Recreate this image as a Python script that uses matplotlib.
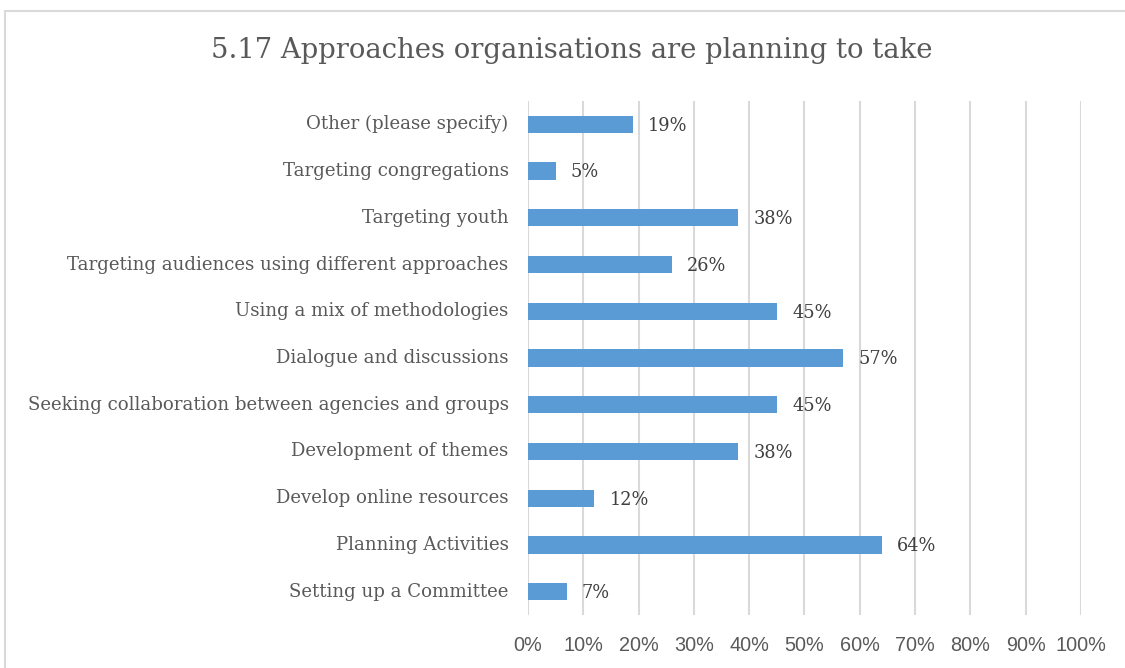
import matplotlib.pyplot as plt
from matplotlib.patches import Rectangle
from matplotlib.ticker import MultipleLocator, PercentFormatter

categories = [
    "Other (please specify)",
    "Targeting congregations",
    "Targeting youth",
    "Targeting audiences using different approaches",
    "Using a mix of methodologies",
    "Dialogue and discussions",
    "Seeking collaboration between agencies and groups",
    "Development of themes",
    "Develop online resources",
    "Planning Activities",
    "Setting up a Committee",
]
values = [19, 5, 38, 26, 45, 57, 45, 38, 12, 64, 7]

title = "5.17 Approaches organisations are planning to take"

bar_color = "#5B9BD5"
text_color = "#595959"
grid_color = "#D9D9D9"

fig = plt.figure(figsize=(11.25, 6.68), dpi=100)
ax = fig.add_axes([0.4693, 0.0793, 0.4916, 0.7695])

# outer chart frame (cut off at the right and bottom edges)
fig.patches.append(Rectangle((5 / 1125, -0.1), 2.0, (668 - 11) / 668 + 0.1,
                             transform=fig.transFigure, fill=False,
                             edgecolor=grid_color, linewidth=1.5))

y = list(range(len(categories)))[::-1]
ax.barh(y, values, height=0.37, color=bar_color, zorder=3)

for yi, v in zip(y, values):
    ax.annotate(f"{v}%", xy=(v, yi), xytext=(11, -1), textcoords="offset points",
                ha="left", va="center", fontsize=12.8, color="#404040",
                family="DejaVu Serif")

ax.set_xlim(0, 100)
ax.set_ylim(-0.5, len(categories) - 0.5)
ax.xaxis.set_major_locator(MultipleLocator(10))
ax.xaxis.set_major_formatter(PercentFormatter(decimals=0))
ax.set_yticks(y)
ax.set_yticklabels(categories, family="DejaVu Serif", fontsize=13.1, color=text_color)
for lbl in ax.get_yticklabels():
    lbl.set_verticalalignment("center")
ax.tick_params(axis="y", length=0, pad=14)
ax.tick_params(axis="x", length=0, pad=15, labelsize=14.3, labelcolor=text_color)
for lbl in ax.get_xticklabels():
    lbl.set_family("Liberation Sans")

ax.grid(axis="x", color=grid_color, linewidth=1.5, zorder=0)
for s in ax.spines.values():
    s.set_visible(False)

fig.text(0.508, 0.925, title, ha="center", va="center", fontsize=19.8,
         family="DejaVu Serif", color=text_color)

fig.savefig("out.png", dpi=100)
